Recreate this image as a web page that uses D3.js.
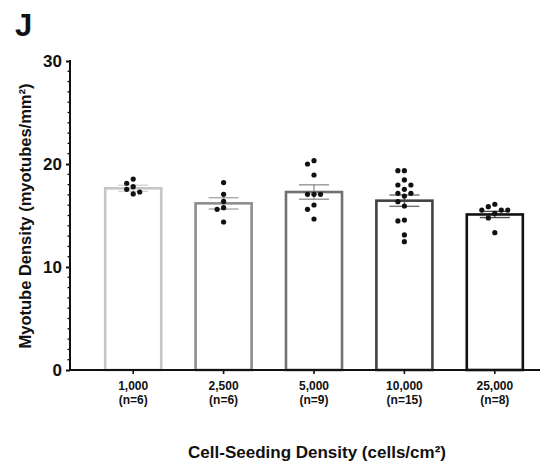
<!DOCTYPE html>
<html>
<head>
<meta charset="utf-8">
<script src="https://cdn.jsdelivr.net/npm/d3@7"></script>
<style>
    body { margin: 0; background: #fff; }
    text { font-family: "Liberation Sans", Arial, sans-serif; font-weight: bold; fill: #111; }
</style>
</head>
<body>
<script>
const categories = ["1,000", "2,500", "5,000", "10,000", "25,000"]
const nLabels = ["(n=6)", "(n=6)", "(n=9)", "(n=15)", "(n=8)"]
const means = [17.64, 16.18, 17.28, 16.44, 15.1]
const sems = [0.3, 0.55, 0.7, 0.55, 0.3]
const points = [
    [18.54, 18.13, 17.8, 17.54, 17.28, 17.09],
    [18.2, 17.06, 16.37, 15.76, 15.6, 14.37],
    [20.32, 20.0, 18.93, 17.06, 17.06, 17.06, 16.02, 15.6, 14.66],
    [19.35, 19.35, 18.45, 17.96, 17.96, 17.54, 17.15, 17.15, 16.89, 16.34, 15.92, 14.56, 14.47, 13.11, 12.46],
    [16.09, 15.86, 15.53, 15.53, 15.53, 15.21, 14.76, 13.33]
]
const yTicks = [0, 10, 20, 30]
const barColors = ["#c6c6c6", "#8e8e8e", "#717171", "#424242", "#111111"]

const WIDTH = 550
const HEIGHT = 464

const svg = d3.select("body")
    .append("svg")
    .attr("width", WIDTH)
    .attr("height", HEIGHT)

const xScale = d3.scaleBand()
    .domain(categories)
    .range([88, 540])
    .paddingInner(0.38)
    .paddingOuter(0.19)

const yScale = d3.scaleLinear()
    .domain([0, 30])
    .range([370, 61])

// bars
svg.selectAll("rect.bar")
    .data(means)
    .enter()
    .append("rect")
    .attr("class", "bar")
    .attr("x", (d, i) => xScale(categories[i]))
    .attr("y", d => yScale(d))
    .attr("width", xScale.bandwidth())
    .attr("height", d => yScale(0) - yScale(d))
    .attr("fill", "none")
    .attr("stroke", (d, i) => barColors[i])
    .attr("stroke-width", 2.6)

// error bars
const eb = svg.selectAll("g.err")
    .data(means)
    .enter()
    .append("g")
    .attr("class", "err")
    .attr("stroke", (d, i) => barColors[i])
    .attr("stroke-opacity", 0.75)
    .attr("stroke-width", 1.4)

eb.each(function (d, i) {
    const g = d3.select(this)
    const cx = xScale(categories[i]) + xScale.bandwidth() / 2
    const top = yScale(d + sems[i])
    const bot = yScale(d - sems[i])
    g.append("line").attr("x1", cx).attr("x2", cx).attr("y1", top).attr("y2", bot)
    g.append("line").attr("x1", cx - 15).attr("x2", cx + 15).attr("y1", top).attr("y2", top)
    g.append("line").attr("x1", cx - 15).attr("x2", cx + 15).attr("y1", bot).attr("y2", bot)
})

// scatter points, spread sideways where they overlap
const R = 2.6
const offsets = [0, -6.5, 6.5, -13, 13]
points.forEach((vals, i) => {
    const cx = xScale(categories[i]) + xScale.bandwidth() / 2
    const placed = []
    vals.forEach(v => {
        const py = yScale(v)
        let px = cx
        for (const o of offsets) {
            const ok = placed.every(p => Math.hypot(p[0] - (cx + o), p[1] - py) > 2 * R + 0.6)
            if (ok) { px = cx + o; break }
        }
        placed.push([px, py])
    })
    svg.selectAll(null)
        .data(placed)
        .enter()
        .append("circle")
        .attr("cx", d => d[0])
        .attr("cy", d => d[1])
        .attr("r", R)
        .attr("fill", "#111")
})

// y axis
const yAxis = d3.axisLeft(yScale)
    .tickValues(yTicks)
    .tickSize(4)
    .tickPadding(4)
    .tickFormat(d3.format("d"))

const yAxisG = svg.append("g")
    .attr("transform", "translate(70, 0)")
    .call(yAxis)

yAxisG.select(".domain").remove()
yAxisG.selectAll(".tick line").attr("stroke", "#111").attr("stroke-width", 2)
yAxisG.selectAll(".tick text")
    .style("font-size", "17px")
    .style("font-family", "'Liberation Sans', Arial, sans-serif")
    .style("font-weight", "bold")
    .attr("fill", "#111")

// minor ticks
svg.selectAll("line.minor")
    .data(d3.range(0, 31).filter(v => v % 10 !== 0))
    .enter()
    .append("line")
    .attr("class", "minor")
    .attr("x1", 67.5)
    .attr("x2", 70)
    .attr("y1", d => yScale(d))
    .attr("y2", d => yScale(d))
    .attr("stroke", "#111")
    .attr("stroke-width", 1.3)

svg.append("line")
    .attr("x1", 70).attr("x2", 70)
    .attr("y1", yScale(30) - 1).attr("y2", yScale(0) + 1)
    .attr("stroke", "#111")
    .attr("stroke-width", 2)

// x axis
const xAxis = d3.axisBottom(xScale)
    .tickSize(4)
    .tickPadding(6)

const xAxisG = svg.append("g")
    .attr("transform", "translate(0, 370)")
    .call(xAxis)

xAxisG.select(".domain").remove()
xAxisG.selectAll(".tick line").attr("stroke", "#111").attr("stroke-width", 1.6)
xAxisG.selectAll(".tick text").remove()

xAxisG.selectAll(".tick")
    .append("text")
    .attr("y", 20)
    .attr("text-anchor", "middle")
    .style("font-size", "12px")
    .text(d => d)

xAxisG.selectAll(".tick")
    .append("text")
    .attr("y", 34)
    .attr("text-anchor", "middle")
    .style("font-size", "12px")
    .text((d, i) => nLabels[i])

svg.append("line")
    .attr("x1", 69).attr("x2", 540)
    .attr("y1", 370).attr("y2", 370)
    .attr("stroke", "#111")
    .attr("stroke-width", 2)

// labels
svg.append("text")
    .attr("x", 15)
    .attr("y", 36)
    .style("font-size", "31px")
    .text("J")

svg.append("text")
    .attr("transform", "translate(31, 216) rotate(-90)")
    .attr("text-anchor", "middle")
    .style("font-size", "16.5px")
    .text("Myotube Density (myotubes/mm²)")

svg.append("text")
    .attr("x", 317)
    .attr("y", 458)
    .attr("text-anchor", "middle")
    .style("font-size", "17px")
    .text("Cell-Seeding Density (cells/cm²)")
</script>
</body>
</html>
